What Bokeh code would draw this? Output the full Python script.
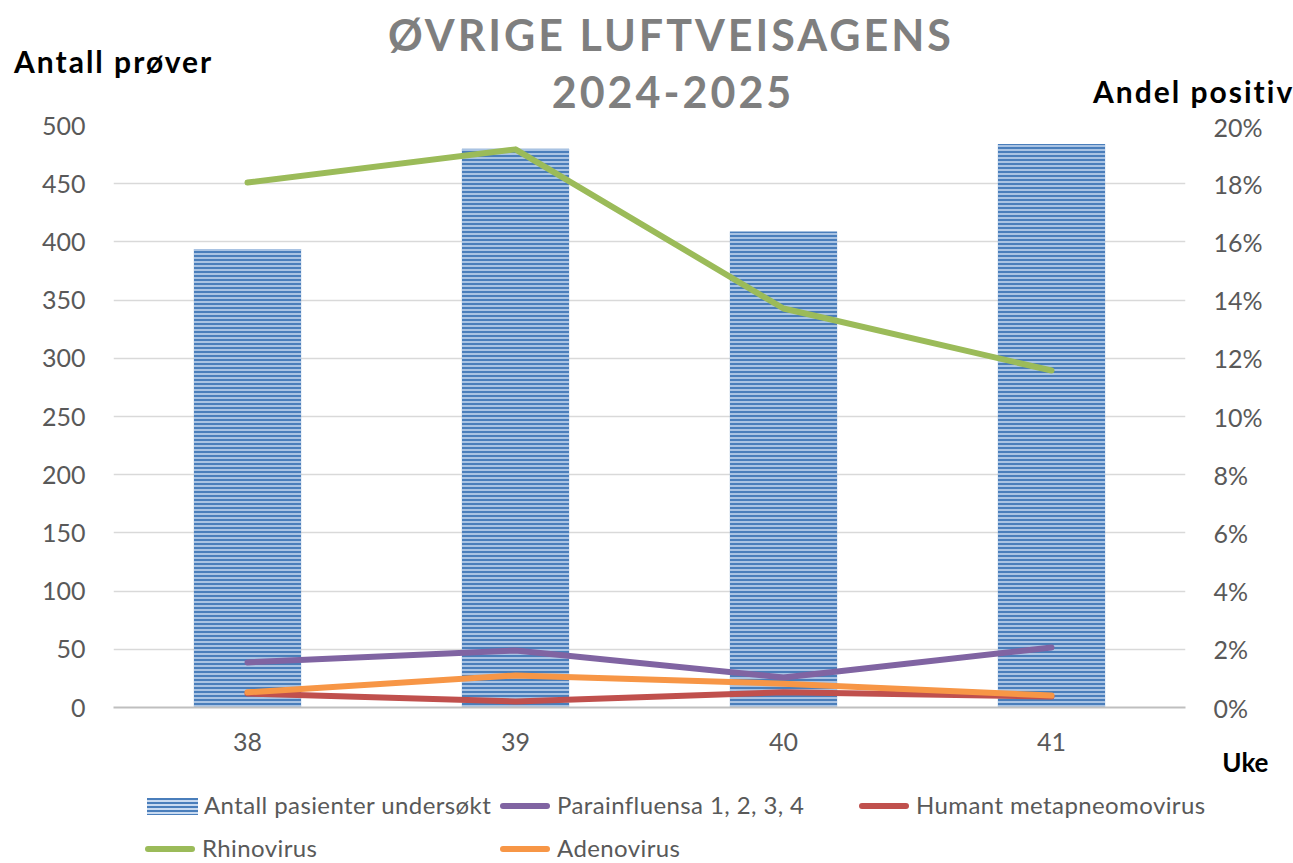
from bokeh.plotting import figure
from bokeh.layouts import column
from bokeh.models import (LinearAxis, Range1d, FactorRange, FixedTicker, NumeralTickFormatter,
                          ColumnDataSource, Title, Div)
from bokeh.embed import file_html
from bokeh.resources import INLINE

weeks = ["38", "39", "40", "41"]
antall = [394, 480, 409, 484]
parainfluensa = [0.0155, 0.0196, 0.0103, 0.0206]
metapneumo = [0.0048, 0.0021, 0.0052, 0.0038]
rhinovirus = [0.1804, 0.1918, 0.1371, 0.1158]
adenovirus = [0.0052, 0.0110, 0.0082, 0.0041]

series_names = ["Antall pasienter undersøkt", "Parainfluensa 1, 2, 3, 4",
                "Humant metapneomovirus", "Rhinovirus", "Adenovirus"]
title_lines = ["ØVRIGE LUFTVEISAGENS", "2024-2025"]
left_title = "Antall prøver"
right_title = "Andel positiv"
x_title = "Uke"

FONT = "Lato"
GREY = "#595959"
BAR_DARK, BAR_LIGHT = "#4a7ebb", "#c9daf0"
COLORS = {"para": "#8064a2", "meta": "#c0504d", "rhino": "#9bbb59", "adeno": "#f79646"}
W = 1293
HEAD_H = 111
FOOT_TOP = 782
MAIN_H = FOOT_TOP - HEAD_H
FOOT_H = 863 - FOOT_TOP

# ---------------- header (HTML text) ----------------
def abs_text(text, left, top, size, color, width=None, align="left", spacing=0):
    w = f"width:{width}px;" if width else ""
    return (f'<div style="position:absolute;left:{left}px;top:{top}px;{w}text-align:{align};'
            f'font-family:{FONT};font-weight:bold;font-size:{size}px;line-height:1;'
            f'letter-spacing:{spacing}px;color:{color};white-space:nowrap;">{text}</div>')

head_html = (f'<div style="position:relative;width:{W}px;height:{HEAD_H}px;">'
             + abs_text(title_lines[0], 371, 51 - 0.887 * 43, 43, "#7f7f7f", width=600,
                        align="center", spacing=3)
             + abs_text(title_lines[1], 373, 108 - 0.887 * 43, 43, "#7f7f7f", width=600,
                        align="center", spacing=3)
             + abs_text(left_title, 14, 73 - 0.887 * 30, 30, "black", spacing=2)
             + abs_text(right_title, 1093, 103 - 0.887 * 30, 30, "black", spacing=2)
             + '</div>')
head = Div(text=head_html, width=W, height=HEAD_H, margin=0, styles={"overflow": "visible"})

# ---------------- main chart ----------------
src = ColumnDataSource(dict(week=weeks, antall=antall, para=parainfluensa, meta=metapneumo,
                            rhino=rhinovirus, adeno=adenovirus))

p = figure(x_range=FactorRange(*weeks), y_range=Range1d(0, 500), width=W, height=MAIN_H,
           output_backend="svg", toolbar_location=None,
           min_border_left=113, min_border_right=W - 1185, min_border_top=125 - HEAD_H,
           min_border_bottom=FOOT_TOP - 707)
p.outline_line_color = None
p.extra_y_ranges = {"pct": Range1d(0, 0.2)}

p.vbar(x="week", top="antall", width=0.4, source=src, fill_color=BAR_DARK,
       line_color=None, hatch_pattern="horizontal_line", hatch_color=BAR_LIGHT,
       hatch_scale=4, hatch_weight=1.5)
lw = 6
for key in ["para", "meta", "rhino", "adeno"]:
    p.line(x="week", y=key, source=src, y_range_name="pct", line_color=COLORS[key],
           line_width=lw, line_cap="round", line_join="round")

def style_axis(a, standoff):
    a.axis_line_color = None
    a.major_tick_line_color = None
    a.minor_tick_line_color = None
    a.major_tick_out = 0
    a.major_tick_in = 0
    a.minor_tick_out = 0
    a.minor_tick_in = 0
    a.major_label_text_font = FONT
    a.major_label_text_font_size = "25px"
    a.major_label_text_color = GREY
    a.major_label_standoff = standoff

ax = p.yaxis[0]
ax.ticker = FixedTicker(ticks=list(range(0, 501, 50)))
style_axis(ax, 28)

ra = LinearAxis(y_range_name="pct", ticker=FixedTicker(ticks=[i / 100 for i in range(0, 21, 2)]),
                formatter=NumeralTickFormatter(format="0%"))
style_axis(ra, 28)
p.add_layout(ra, "right")

xa = p.xaxis[0]
style_axis(xa, 25)
xa.axis_line_color = "#bfbfbf"
xa.axis_line_width = 2

p.xgrid.grid_line_color = None
p.ygrid.grid_line_color = "#d9d9d9"
p.ygrid.grid_line_width = 1.5

p.add_layout(Title(text=x_title, align="right", offset=-83, vertical_align="top", standoff=-16,
                   text_font=FONT, text_font_size="26px", text_font_style="bold",
                   text_color="black"), "below")

# ---------------- footer legend (HTML) ----------------
def swatch(kind, color, left, cy):
    if kind == "bar":
        return (f'<div style="position:absolute;left:{left}px;top:{cy - 8.5}px;width:51px;height:17px;'
                f'background:repeating-linear-gradient(to bottom,{BAR_DARK} 0px,{BAR_DARK} 2px,'
                f'{BAR_LIGHT} 2px,{BAR_LIGHT} 4px);"></div>')
    return (f'<div style="position:absolute;left:{left}px;top:{cy - 3}px;width:50px;height:6px;'
            f'border-radius:3px;background:{color};"></div>')

def leg_text(text, left, baseline):
    return (f'<div style="position:absolute;left:{left}px;top:{baseline - 0.887 * 24}px;'
            f'font-family:{FONT};font-size:24px;line-height:1;letter-spacing:0.4px;color:{GREY};'
            f'white-space:nowrap;">{text}</div>')

legend_spec = [("bar", BAR_DARK, 147, 806), ("line", COLORS["para"], 500, 806),
               ("line", COLORS["meta"], 859, 806), ("line", COLORS["rhino"], 145, 849),
               ("line", COLORS["adeno"], 500, 849)]
foot_parts = []
for name, (kind, color, left, cy_page) in zip(series_names, legend_spec):
    cy = cy_page - FOOT_TOP
    foot_parts.append(swatch(kind, color, left, cy))
    foot_parts.append(leg_text(name, left + 57, cy + 8))
foot_html = (f'<div style="position:relative;width:{W}px;height:{FOOT_H}px;overflow:hidden;">'
             + "".join(foot_parts) + '</div>')
foot = Div(text=foot_html, width=W, height=FOOT_H, margin=0)

open("out.html", "w").write(file_html(column(head, p, foot, spacing=0), INLINE))
